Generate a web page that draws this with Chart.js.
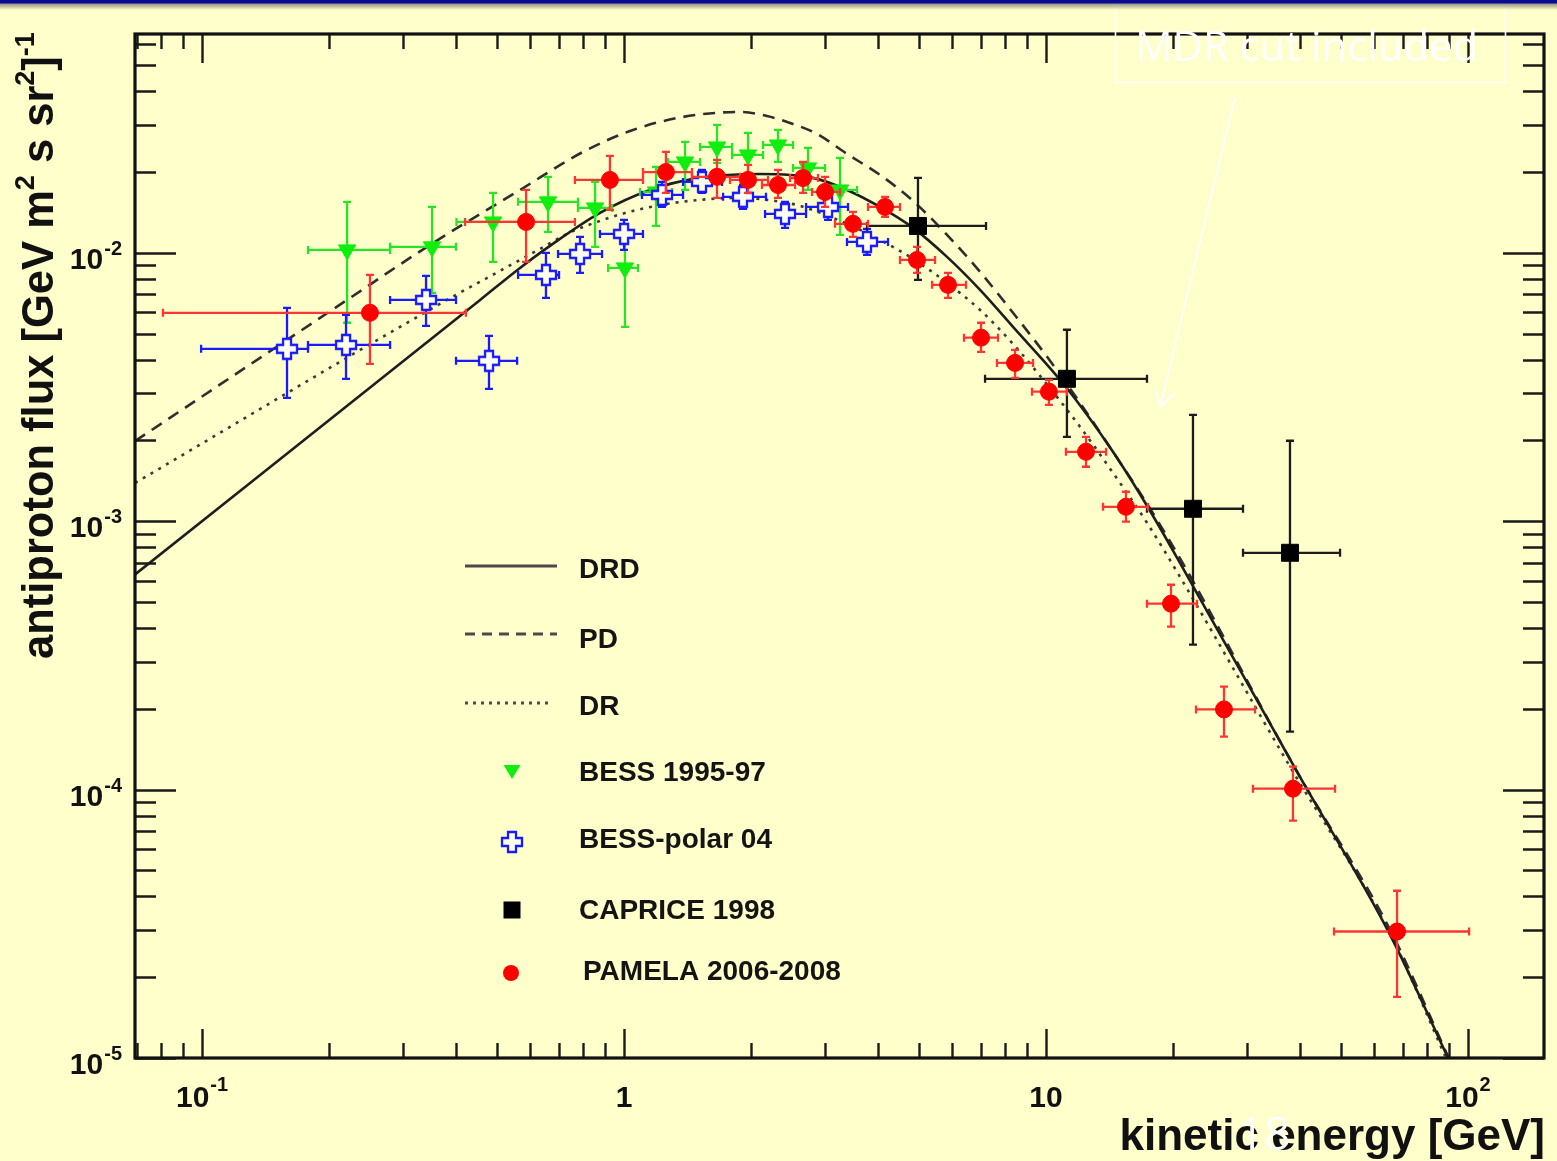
<!DOCTYPE html>
<html>
<head>
<meta charset="utf-8">
<title>Antiproton flux</title>
<script src="https://cdn.jsdelivr.net/npm/chart.js@4.4.1/dist/chart.umd.min.js"></script>
<style>
  html, body { margin: 0; padding: 0; background: #ffffcc; overflow: hidden; }
  #wrap { position: relative; width: 1557px; height: 1161px; }
  #wrap canvas { position: absolute; left: 0; top: 0; }
  #band { position: absolute; left: 0; top: 0; width: 1557px; height: 10px;
          background: linear-gradient(#0a0a96 0px, #0a0a96 3px, #9a9a80 4px, rgba(255,255,204,0) 10px); }
</style>
</head>
<body>
<div id="wrap">
  <canvas id="chart" width="1557" height="1161"></canvas>
  <div id="band"></div>
</div>
<script>
// ---------------- measured series ----------------
// PAMELA 2006-2008
const pamelaE   = [0.250, 0.586, 0.926, 1.257, 1.661, 1.967, 2.317, 2.656, 2.995, 3.488, 4.155, 4.947, 5.859, 7.015, 8.446, 10.16, 12.44, 15.47, 19.78, 26.41, 38.48, 67.9];
const pamelaF   = [0.00598, 0.01304, 0.0187, 0.0200, 0.0192, 0.0187, 0.0179, 0.0190, 0.01687, 0.01283, 0.01483, 0.00941, 0.0076, 0.00483, 0.00389, 0.00304, 0.001815, 0.001132, 0.000493, 0.000199, 0.0001008, 0.0000296];
const pamelaELo = [0.0808, 0.420, 0.765, 1.109, 1.449, 1.783, 2.123, 2.474, 2.790, 3.162, 3.786, 4.508, 5.370, 6.392, 7.653, 9.266, 11.15, 13.65, 17.35, 22.67, 30.94, 48.14];
const pamelaEHi = [0.422, 0.765, 1.109, 1.449, 1.883, 2.194, 2.543, 2.882, 3.250, 3.786, 4.508, 5.458, 6.462, 7.695, 9.317, 11.21, 13.88, 17.44, 22.79, 31.28, 48.4, 100.6];
const pamelaFLo = [0.00386, 0.00926, 0.01446, 0.01673, 0.01603, 0.01673, 0.01603, 0.01673, 0.01483, 0.01147, 0.01362, 0.00842, 0.0068, 0.00428, 0.00342, 0.002716, 0.001596, 0.000996, 0.000405, 0.0001576, 0.0000767, 0.0000169];
const pamelaFHi = [0.00828, 0.01716, 0.02298, 0.02378, 0.0222, 0.02127, 0.02037, 0.02182, 0.01919, 0.01421, 0.01617, 0.01053, 0.00842, 0.00549, 0.00435, 0.003365, 0.002064, 0.001288, 0.00058, 0.000242, 0.0001218, 0.000042];

// BESS 1995-97
const bessE   = [0.2207, 0.3508, 0.4894, 0.6606, 0.8539, 1.005, 1.191, 1.395, 1.661, 1.967, 2.317, 2.729, 3.250];
const bessF   = [0.01026, 0.01053, 0.01304, 0.01549, 0.01471, 0.00879, 0.01687, 0.02182, 0.02482, 0.02317, 0.02525, 0.02073, 0.01716];
const bessELo = [0.1783, 0.279, 0.4009, 0.561, 0.778, 0.917, 1.091, 1.271, 1.514, 1.803, 2.135, 2.515, 2.995];
const bessEHi = [0.279, 0.3998, 0.589, 0.778, 0.937, 1.079, 1.299, 1.514, 1.803, 2.135, 2.515, 2.995, 3.566];
const bessFLo = [0.00549, 0.0071, 0.00926, 0.01197, 0.01053, 0.0053, 0.0126, 0.01716, 0.02163, 0.01919, 0.02182, 0.01716, 0.01167];
const bessFHi = [0.01549, 0.01483, 0.01673, 0.01919, 0.01838, 0.01167, 0.0209, 0.0259, 0.02997, 0.02798, 0.02871, 0.0246, 0.02258];

// BESS-polar 04
const polarE   = [0.159, 0.2194, 0.3395, 0.4787, 0.6532, 0.7866, 1.0, 1.230, 1.530, 1.914, 2.407, 3.044, 3.765];
const polarF   = [0.00439, 0.00454, 0.00668, 0.00396, 0.00828, 0.00991, 0.01177, 0.01644, 0.01838, 0.01617, 0.01397, 0.01483, 0.01099];
const polarELo = [0.0995, 0.1783, 0.279, 0.3998, 0.561, 0.6977, 0.877, 1.103, 1.380, 1.717, 2.159, 2.700, 3.376];
const polarEHi = [0.1783, 0.279, 0.3998, 0.558, 0.7015, 0.887, 1.109, 1.380, 1.707, 2.170, 2.700, 3.395, 4.223];
const polarFLo = [0.00288, 0.003395, 0.00535, 0.003115, 0.0068, 0.00842, 0.01026, 0.01483, 0.01673, 0.01458, 0.01239, 0.01327, 0.00983];
const polarFHi = [0.00624, 0.00587, 0.00821, 0.00491, 0.0100, 0.01147, 0.01327, 0.01838, 0.02037, 0.01792, 0.01549, 0.01644, 0.01229];

// CAPRICE 1998
const capriceE   = [4.973, 11.21, 22.30, 37.86];
const capriceF   = [0.0126, 0.003395, 0.001113, 0.000763];
const capriceELo = [3.765, 7.171, 17.35, 29.30];
const capriceEHi = [7.209, 17.35, 29.30, 49.75];
const capriceFLo = [0.00793, 0.002064, 0.000347, 0.0001644];
const capriceFHi = [0.01903, 0.00517, 0.002492, 0.001995];

// ---------------- model curves ----------------
const drdE = [0.0694, 0.456, 0.567, 0.6677, 0.877, 1.152, 1.514, 2.100, 2.805, 3.376, 4.043, 4.84, 5.827, 6.978, 8.353, 11.09, 14.41, 17.35, 20.77, 39.33, 65.33, 89.7];
const drdF = [6.34e-4, 6.68e-3, 8.79e-3, 0.01062, 0.01409, 0.01716, 0.01903, 0.01968, 0.01903, 0.01716, 0.01483, 0.01239, 0.00966, 0.00728, 0.0053, 0.003197, 0.001815, 0.001142, 7.0e-4, 1.167e-4, 2.884e-5, 1.0e-5];

const pdE = [0.0694, 0.2207, 0.347, 0.567, 0.7995, 1.050, 1.380, 1.883, 2.182, 2.474, 2.867, 3.376, 4.043, 4.84, 5.827, 6.978, 8.353, 10.06, 12.04, 14.41, 17.35, 21.12, 39.33, 65.33, 89.7];
const pdF = [1.989e-3, 6.68e-3, 0.01071, 0.01716, 0.02378, 0.02871, 0.0321, 0.0335, 0.03237, 0.03049, 0.02774, 0.02337, 0.01952, 0.01562, 0.01167, 0.0085, 0.00598, 0.0041, 0.00276, 0.001815, 0.001162, 6.95e-4, 1.167e-4, 3.01e-5, 1.013e-5];

const drE = [0.0694, 0.3807, 0.5084, 0.6324, 0.7327, 0.877, 1.050, 1.264, 1.514, 1.832, 2.182, 2.613, 3.376, 4.043, 4.84, 5.827, 6.978, 8.353, 10.11, 12.04, 14.41, 17.35, 20.77, 37.86, 65.33, 88.7];
const drF = [1.389e-3, 6.68e-3, 0.00857, 0.01035, 0.01177, 0.01316, 0.01433, 0.01522, 0.01576, 0.01603, 0.01576, 0.01496, 0.01283, 0.01118, 0.0095, 0.00773, 0.00613, 0.00458, 0.0032, 0.002249, 0.001516, 0.000987, 6.21e-4, 1.218e-4, 2.91e-5, 1.0e-5];

// ---------------- axis labels ----------------
const xTickVals = [0.1, 1, 10, 100];
const xTickBase = ['10', '1', '10', '10'];
const xTickExp  = ['-1', '', '', '2'];
const yTickVals = [1e-5, 1e-4, 1e-3, 1e-2];
const yTickBase = ['10', '10', '10', '10'];
const yTickExp  = ['-5', '-4', '-3', '-2'];
const xTitle = 'kinetic energy [GeV]';
const yTitleParts = [['antiproton flux [GeV m', false], ['2', true], [' s sr', false], ['2', true], [']', false], ['-1', true]];
const legendNames = ['DRD', 'PD', 'DR', 'BESS 1995-97', 'BESS-polar 04', 'CAPRICE 1998', 'PAMELA 2006-2008'];
const noteText = 'MDR cut included';
const pageNumber = '18';

// ---------------- styling ----------------
const FONT = '"Liberation Sans", Arial, Helvetica, sans-serif';
const BG = '#ffffcc';
const C_RED = '#ff0000', C_RED_ERR = '#ff3535';
const C_GREEN = '#10ee10', C_GREEN_ERR = '#28e428';
const C_BLUE = '#1a1aff';
const C_BLACK = '#111111';

function pts(E, F) { return E.map((e, i) => ({ x: e, y: F[i] })); }

// open-cross marker
function makeCross(color) {
  const c = document.createElement('canvas');
  c.width = 26; c.height = 26;
  const g = c.getContext('2d');
  const L = 10, a = 4, cx = 13, cy = 13;
  const p = [[-a,-L],[a,-L],[a,-a],[L,-a],[L,a],[a,a],[a,L],[-a,L],[-a,a],[-L,a],[-L,-a],[-a,-a]];
  g.beginPath();
  p.forEach(([x, y], i) => i ? g.lineTo(cx + x, cy + y) : g.moveTo(cx + x, cy + y));
  g.closePath();
  g.fillStyle = '#fffff0';
  g.fill();
  g.lineWidth = 2.3;
  g.strokeStyle = color;
  g.stroke();
  return c;
}
const crossImg = makeCross(C_BLUE);

function logTickList(min, max) {
  const out = [];
  for (let e = Math.floor(Math.log10(min)); e <= Math.ceil(Math.log10(max)); e++) {
    for (let m = 1; m <= 9; m++) {
      const v = m * Math.pow(10, e);
      if (v >= min * 0.9999 && v <= max * 1.0001) out.push({ v, major: m === 1 });
    }
  }
  return out;
}

function drawPow(ctx, base, exp, x, y, align, expRise) {
  ctx.textAlign = 'left';
  ctx.textBaseline = 'alphabetic';
  ctx.font = 'bold 30px ' + FONT;
  const bw = ctx.measureText(base).width;
  ctx.font = 'bold 20px ' + FONT;
  const ew = exp ? ctx.measureText(exp).width + 1 : 0;
  const x0 = align === 'right' ? x - bw - ew : x - (bw + ew) / 2;
  ctx.font = 'bold 30px ' + FONT;
  ctx.fillText(base, x0, y);
  if (exp) {
    ctx.font = 'bold 20px ' + FONT;
    ctx.fillText(exp, x0 + bw + 1, y - expRise);
  }
}

// error bars with end caps
function drawErrors(chart, ds) {
  const ctx = chart.ctx, xs = chart.scales.x, ys = chart.scales.y;
  const e = ds.err, cap = 4;
  ctx.save();
  ctx.strokeStyle = ds.errColor;
  ctx.lineWidth = 2.3;
  ctx.lineCap = 'butt';
  ds.data.forEach((p, i) => {
    const px = xs.getPixelForValue(p.x), py = ys.getPixelForValue(p.y);
    const x1 = xs.getPixelForValue(e.xLo[i]), x2 = xs.getPixelForValue(e.xHi[i]);
    const y1 = ys.getPixelForValue(e.yHi[i]), y2 = ys.getPixelForValue(e.yLo[i]);
    ctx.beginPath();
    ctx.moveTo(x1, py); ctx.lineTo(x2, py);
    ctx.moveTo(px, y1); ctx.lineTo(px, y2);
    ctx.moveTo(x1, py - cap); ctx.lineTo(x1, py + cap);
    ctx.moveTo(x2, py - cap); ctx.lineTo(x2, py + cap);
    ctx.moveTo(px - cap, y1); ctx.lineTo(px + cap, y1);
    ctx.moveTo(px - cap, y2); ctx.lineTo(px + cap, y2);
    ctx.stroke();
  });
  ctx.restore();
}

const framePlugin = {
  id: 'frame',
  beforeDraw(chart) {
    const ctx = chart.ctx;
    ctx.save();
    ctx.fillStyle = BG;
    ctx.fillRect(0, 0, chart.width, chart.height);
    ctx.restore();
  },
  beforeDatasetDraw(chart, args) {
    const ds = chart.data.datasets[args.index];
    if (ds.err) drawErrors(chart, ds);
  },
  afterDatasetsDraw(chart) {
    const ctx = chart.ctx, a = chart.chartArea, xs = chart.scales.x, ys = chart.scales.y;
    ctx.save();
    // tick marks on all four sides
    ctx.strokeStyle = '#1a1a1a';
    ctx.lineWidth = 2.4;
    ctx.beginPath();
    logTickList(xs.min, xs.max).forEach(t => {
      const px = Math.round(xs.getPixelForValue(t.v)) + 0.5;
      const len = t.major ? 29 : 15;
      ctx.moveTo(px, a.bottom); ctx.lineTo(px, a.bottom - len);
      ctx.moveTo(px, a.top); ctx.lineTo(px, a.top + len);
    });
    logTickList(ys.min, ys.max).forEach(t => {
      const py = Math.round(ys.getPixelForValue(t.v)) + 0.5;
      const len = t.major ? 41 : 21;
      ctx.moveTo(a.left, py); ctx.lineTo(a.left + len, py);
      ctx.moveTo(a.right, py); ctx.lineTo(a.right - len, py);
    });
    ctx.stroke();
    // frame
    ctx.lineWidth = 3.2;
    ctx.strokeStyle = C_BLACK;
    ctx.strokeRect(a.left, a.top, a.right - a.left, a.bottom - a.top);
    ctx.restore();
  },
  afterDraw(chart) {
    const ctx = chart.ctx, a = chart.chartArea, xs = chart.scales.x, ys = chart.scales.y;
    ctx.save();
    ctx.fillStyle = C_BLACK;
    // tick labels
    xTickVals.forEach((v, i) => drawPow(ctx, xTickBase[i], xTickExp[i], xs.getPixelForValue(v), a.bottom + 49, 'center', 16));
    yTickVals.forEach((v, i) => drawPow(ctx, yTickBase[i], yTickExp[i], a.left - 13, ys.getPixelForValue(v) + 16, 'right', 14));

    // axis titles
    ctx.font = 'bold 44px ' + FONT;
    ctx.textAlign = 'right';
    ctx.fillText(xTitle, a.right + 1, 1150);

    ctx.save();
    ctx.translate(53, 659);
    ctx.rotate(-Math.PI / 2);
    ctx.textAlign = 'left';
    let cx = 0;
    yTitleParts.forEach(([t, sup]) => {
      ctx.font = (sup ? 'bold 27px ' : 'bold 43.5px ') + FONT;
      ctx.fillText(t, cx, sup ? -19 : 0);
      cx += ctx.measureText(t).width;
    });
    ctx.restore();

    // legend
    const lx0 = 465, lx1 = 557, tx = 579;
    const lineRows = [566, 634, 703];
    const dashes = [[], [10, 7], [3, 5]];
    ctx.strokeStyle = '#4a4a4a';
    ctx.lineWidth = 3;
    lineRows.forEach((y, i) => {
      ctx.setLineDash(dashes[i]);
      ctx.beginPath();
      ctx.moveTo(lx0, y); ctx.lineTo(i === 2 ? 553 : lx1, y);
      ctx.stroke();
    });
    ctx.setLineDash([]);
    // legend markers
    const mx = 512;
    ctx.fillStyle = C_GREEN;
    ctx.beginPath();
    ctx.moveTo(mx - 8.5, 765); ctx.lineTo(mx + 8.5, 765); ctx.lineTo(mx, 779); ctx.closePath();
    ctx.fill();
    ctx.drawImage(crossImg, mx - 13, 842 - 13);
    ctx.fillStyle = '#000';
    ctx.fillRect(mx - 8.5, 910 - 8.5, 17, 17);
    ctx.fillStyle = C_RED;
    ctx.beginPath(); ctx.arc(mx - 1, 973, 8, 0, Math.PI * 2); ctx.fill();
    // legend text
    const textBase = [578, 648, 715, 781, 848, 919, 980];
    ctx.fillStyle = '#141414';
    ctx.font = 'bold 28px ' + FONT;
    ctx.textAlign = 'left';
    legendNames.forEach((n, i) => ctx.fillText(n, i === 6 ? 583 : tx, textBase[i]));

    // note box with arrow
    ctx.strokeStyle = '#ffffff';
    ctx.lineWidth = 1.6;
    ctx.strokeRect(1115.5, 5.5, 390, 77);
    ctx.fillStyle = '#ffffff';
    ctx.font = '42px "Open Sans", sans-serif';
    const nw = ctx.measureText(noteText).width;
    ctx.save();
    ctx.translate(1135, 61);
    ctx.scale(343 / nw, 1);
    ctx.fillText(noteText, 0, 0);
    ctx.restore();
    ctx.lineWidth = 1.8;
    ctx.beginPath();
    ctx.moveTo(1235, 97); ctx.lineTo(1160, 407);
    ctx.moveTo(1155, 389); ctx.lineTo(1160, 407); ctx.lineTo(1175, 393);
    ctx.stroke();

    // page number
    ctx.font = '46px "Open Sans", sans-serif';
    ctx.textAlign = 'center';
    ctx.fillText(pageNumber, 1264, 1150);
    ctx.restore();
  }
};

const lineDefaults = { showLine: true, pointRadius: 0, borderWidth: 2.6, cubicInterpolationMode: 'monotone', fill: false };

new Chart(document.getElementById('chart'), {
  type: 'scatter',
  data: {
    datasets: [
      { label: legendNames[6], data: pts(pamelaE, pamelaF),
        err: { xLo: pamelaELo, xHi: pamelaEHi, yLo: pamelaFLo, yHi: pamelaFHi }, errColor: C_RED_ERR,
        pointStyle: 'circle', pointRadius: 8.5, pointBackgroundColor: C_RED, pointBorderColor: C_RED, pointBorderWidth: 1 },
      { label: legendNames[5], data: pts(capriceE, capriceF),
        err: { xLo: capriceELo, xHi: capriceEHi, yLo: capriceFLo, yHi: capriceFHi }, errColor: '#1c1c1c',
        pointStyle: 'rect', pointRadius: 12, pointBackgroundColor: '#000', pointBorderColor: '#000', pointBorderWidth: 1 },
      { label: legendNames[4], data: pts(polarE, polarF),
        err: { xLo: polarELo, xHi: polarEHi, yLo: polarFLo, yHi: polarFHi }, errColor: C_BLUE,
        pointStyle: crossImg, pointRadius: 10 },
      { label: legendNames[3], data: pts(bessE, bessF),
        err: { xLo: bessELo, xHi: bessEHi, yLo: bessFLo, yHi: bessFHi }, errColor: C_GREEN_ERR,
        pointStyle: 'triangle', pointRotation: 180, pointRadius: 10, pointBackgroundColor: C_GREEN, pointBorderColor: C_GREEN, pointBorderWidth: 1 },
      Object.assign({ label: legendNames[0], data: pts(drdE, drdF), borderColor: '#1e1e1e' }, lineDefaults),
      Object.assign({ label: legendNames[1], data: pts(pdE, pdF), borderColor: '#2e2e2e', borderDash: [12, 8] }, lineDefaults),
      Object.assign({ label: legendNames[2], data: pts(drE, drF), borderColor: '#3a3a3a', borderDash: [3, 6] }, lineDefaults)
    ]
  },
  options: {
    responsive: false,
    animation: false,
    devicePixelRatio: 1,
    events: [],
    layout: { padding: { left: 135, top: 34, right: 13, bottom: 103 } },
    plugins: { legend: { display: false }, tooltip: { enabled: false }, title: { display: false } },
    scales: {
      x: { type: 'logarithmic', min: 0.06937, max: 151.4, bounds: 'data', display: false },
      y: { type: 'logarithmic', min: 1e-5, max: 0.0654, bounds: 'data', display: false }
    }
  },
  plugins: [framePlugin]
});
</script>
</body>
</html>
